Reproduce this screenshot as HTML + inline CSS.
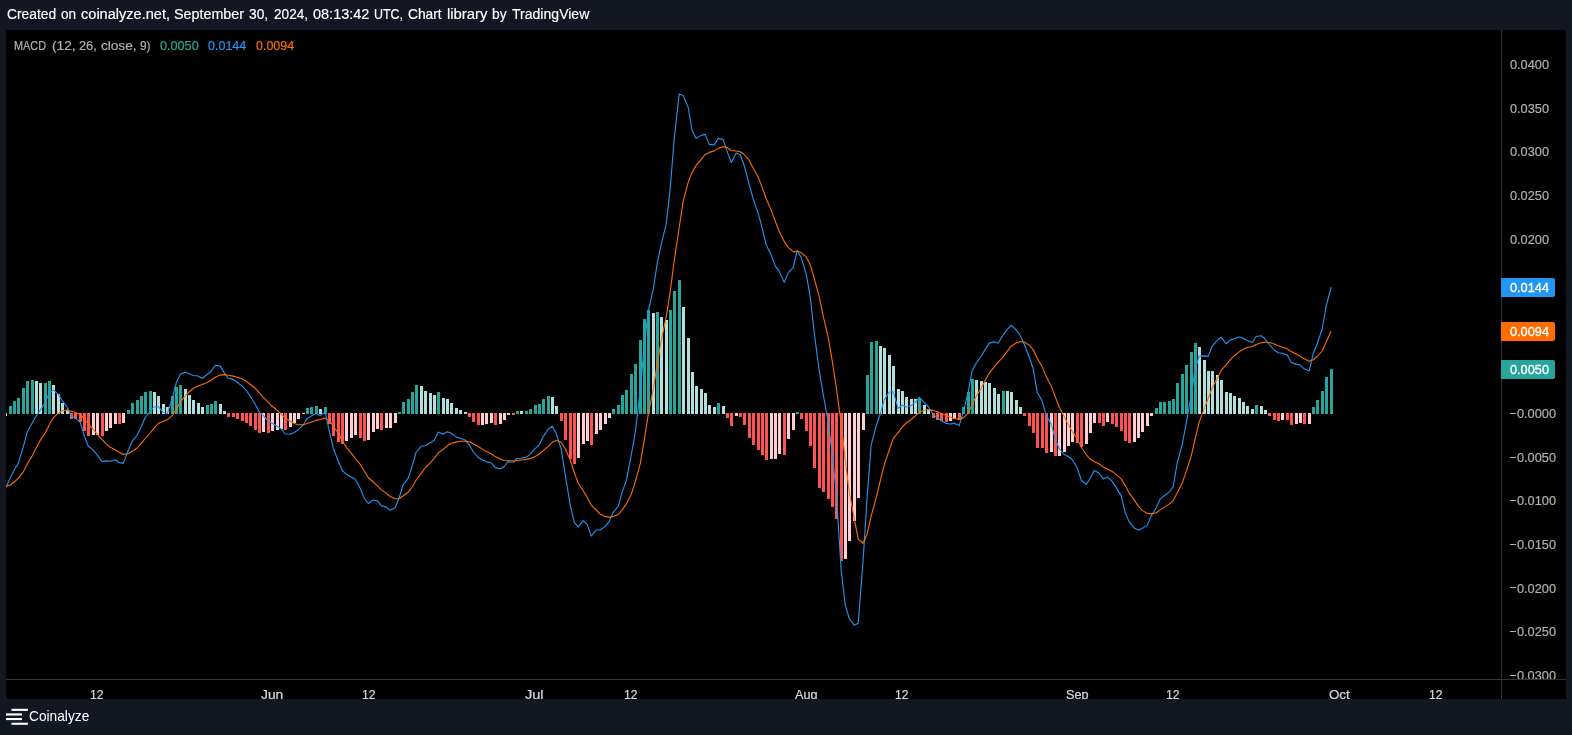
<!DOCTYPE html>
<html><head><meta charset="utf-8"><title>MACD chart</title>
<style>
html,body{margin:0;padding:0;}
body{width:1572px;height:735px;background:#131722;position:relative;overflow:hidden;font-family:"Liberation Sans",sans-serif;}
#chart{position:absolute;left:6px;top:30px;width:1560px;height:669px;background:#000;overflow:hidden;}
.t{position:absolute;white-space:pre;line-height:20px;transform-origin:0 0;font-family:"Liberation Sans",sans-serif;}
.lab{position:absolute;left:1501px;width:54px;height:19px;border-radius:0 2px 2px 0;}
.mn{position:absolute;width:6px;height:1px;background:#b0b0b0;left:1510px;}
</style></head><body>
<div id="chart"></div>
<svg width="1572" height="735" viewBox="0 0 1572 735" style="position:absolute;left:0;top:0">
<defs><clipPath id="cp"><rect x="6" y="30" width="1495" height="649"/></clipPath></defs>
<g clip-path="url(#cp)">
<g shape-rendering="crispEdges"><path fill="#ffcdd2" d="M4 413h3v3h-3zM92 413h3v22h-3zM96 413h3v22h-3zM105 413h3v18h-3zM109 413h3v15h-3zM114 413h3v11h-3zM122 413h3v10h-3zM262 413h3v19h-3zM271 413h3v18h-3zM276 413h3v17h-3zM280 413h3v16h-3zM289 413h3v14h-3zM293 413h3v10h-3zM297 413h3v6h-3zM302 413h3v1h-3zM345 413h3v28h-3zM350 413h3v25h-3zM354 413h3v22h-3zM367 413h3v27h-3zM372 413h3v19h-3zM376 413h3v16h-3zM385 413h3v15h-3zM389 413h3v15h-3zM394 413h3v10h-3zM481 413h3v12h-3zM485 413h3v11h-3zM490 413h3v10h-3zM499 413h3v11h-3zM503 413h3v7h-3zM507 413h3v2h-3zM577 413h3v45h-3zM582 413h3v31h-3zM586 413h3v28h-3zM595 413h3v21h-3zM599 413h3v17h-3zM604 413h3v11h-3zM608 413h3v5h-3zM735 413h3v3h-3zM770 413h3v46h-3zM774 413h3v46h-3zM778 413h3v41h-3zM787 413h3v26h-3zM792 413h3v17h-3zM844 413h3v146h-3zM848 413h3v128h-3zM853 413h3v108h-3zM857 413h3v85h-3zM862 413h3v17h-3zM949 413h3v8h-3zM953 413h3v6h-3zM1050 413h3v39h-3zM1058 413h3v43h-3zM1063 413h3v39h-3zM1067 413h3v33h-3zM1071 413h3v29h-3zM1085 413h3v31h-3zM1089 413h3v20h-3zM1093 413h3v10h-3zM1106 413h3v9h-3zM1133 413h3v29h-3zM1137 413h3v25h-3zM1141 413h3v19h-3zM1146 413h3v13h-3zM1150 413h3v3h-3zM1281 413h3v7h-3zM1295 413h3v11h-3zM1299 413h3v10h-3zM1308 413h3v11h-3z"/><path fill="#26a69a" d="M9 406h3v8h-3zM13 401h3v13h-3zM17 398h3v16h-3zM22 388h3v26h-3zM26 381h3v33h-3zM31 380h3v34h-3zM44 383h3v31h-3zM48 381h3v33h-3zM127 410h3v4h-3zM131 403h3v11h-3zM136 400h3v14h-3zM140 396h3v18h-3zM144 392h3v22h-3zM149 391h3v23h-3zM171 396h3v18h-3zM175 387h3v27h-3zM179 385h3v29h-3zM206 405h3v9h-3zM210 404h3v10h-3zM214 401h3v13h-3zM306 408h3v6h-3zM310 407h3v7h-3zM315 406h3v8h-3zM324 407h3v7h-3zM398 412h3v2h-3zM402 402h3v12h-3zM407 399h3v15h-3zM411 392h3v22h-3zM415 385h3v29h-3zM437 392h3v22h-3zM516 411h3v3h-3zM525 411h3v3h-3zM529 409h3v5h-3zM534 405h3v9h-3zM538 404h3v10h-3zM542 399h3v15h-3zM547 396h3v18h-3zM612 409h3v5h-3zM617 405h3v9h-3zM621 395h3v19h-3zM625 390h3v24h-3zM630 374h3v40h-3zM634 364h3v50h-3zM639 340h3v74h-3zM643 319h3v95h-3zM647 310h3v104h-3zM656 312h3v102h-3zM669 310h3v104h-3zM673 291h3v123h-3zM678 280h3v134h-3zM717 403h3v11h-3zM796 412h3v2h-3zM866 375h3v39h-3zM870 342h3v72h-3zM875 341h3v73h-3zM918 398h3v16h-3zM962 407h3v7h-3zM967 392h3v22h-3zM971 379h3v35h-3zM1002 391h3v23h-3zM1155 408h3v6h-3zM1159 402h3v12h-3zM1163 402h3v12h-3zM1168 401h3v13h-3zM1172 399h3v15h-3zM1176 383h3v31h-3zM1181 374h3v40h-3zM1185 365h3v49h-3zM1190 352h3v62h-3zM1194 343h3v71h-3zM1255 405h3v9h-3zM1312 407h3v7h-3zM1316 400h3v14h-3zM1321 391h3v23h-3zM1325 377h3v37h-3zM1330 369h3v45h-3z"/><path fill="#b2dfdb" d="M35 381h3v33h-3zM39 383h3v31h-3zM52 385h3v29h-3zM57 394h3v20h-3zM61 403h3v11h-3zM66 410h3v4h-3zM153 392h3v22h-3zM157 396h3v18h-3zM162 404h3v10h-3zM166 407h3v7h-3zM184 389h3v25h-3zM188 395h3v19h-3zM192 400h3v14h-3zM197 403h3v11h-3zM201 407h3v7h-3zM219 404h3v10h-3zM223 411h3v3h-3zM319 409h3v5h-3zM420 386h3v28h-3zM424 391h3v23h-3zM429 393h3v21h-3zM433 395h3v19h-3zM442 398h3v16h-3zM446 399h3v15h-3zM450 403h3v11h-3zM455 408h3v6h-3zM459 410h3v4h-3zM464 412h3v2h-3zM520 411h3v3h-3zM551 397h3v17h-3zM555 406h3v8h-3zM652 313h3v101h-3zM660 317h3v97h-3zM665 320h3v94h-3zM682 307h3v107h-3zM687 338h3v76h-3zM691 372h3v42h-3zM695 386h3v28h-3zM700 389h3v25h-3zM704 393h3v21h-3zM708 405h3v9h-3zM713 407h3v7h-3zM722 406h3v8h-3zM879 346h3v68h-3zM883 348h3v66h-3zM888 355h3v59h-3zM892 366h3v48h-3zM897 389h3v25h-3zM901 391h3v23h-3zM905 397h3v17h-3zM910 399h3v15h-3zM914 399h3v15h-3zM923 405h3v9h-3zM927 410h3v4h-3zM975 380h3v34h-3zM980 381h3v33h-3zM984 382h3v32h-3zM988 383h3v31h-3zM993 388h3v26h-3zM997 394h3v20h-3zM1006 391h3v23h-3zM1010 392h3v22h-3zM1015 400h3v14h-3zM1019 407h3v7h-3zM1198 347h3v67h-3zM1203 360h3v54h-3zM1207 371h3v43h-3zM1211 371h3v43h-3zM1216 375h3v39h-3zM1220 380h3v34h-3zM1225 392h3v22h-3zM1229 393h3v21h-3zM1233 396h3v18h-3zM1238 398h3v16h-3zM1242 402h3v12h-3zM1246 406h3v8h-3zM1251 409h3v5h-3zM1260 406h3v8h-3zM1264 410h3v4h-3z"/><path fill="#ff5252" d="M70 413h3v6h-3zM74 413h3v6h-3zM79 413h3v9h-3zM83 413h3v18h-3zM87 413h3v23h-3zM101 413h3v23h-3zM118 413h3v11h-3zM227 413h3v4h-3zM232 413h3v4h-3zM236 413h3v6h-3zM241 413h3v8h-3zM245 413h3v10h-3zM249 413h3v13h-3zM254 413h3v17h-3zM258 413h3v20h-3zM267 413h3v20h-3zM284 413h3v17h-3zM328 413h3v11h-3zM332 413h3v23h-3zM337 413h3v29h-3zM341 413h3v31h-3zM359 413h3v25h-3zM363 413h3v28h-3zM380 413h3v17h-3zM468 413h3v4h-3zM472 413h3v9h-3zM477 413h3v12h-3zM494 413h3v12h-3zM512 413h3v2h-3zM560 413h3v8h-3zM564 413h3v27h-3zM569 413h3v46h-3zM573 413h3v51h-3zM590 413h3v32h-3zM726 413h3v5h-3zM730 413h3v13h-3zM739 413h3v4h-3zM743 413h3v12h-3zM748 413h3v25h-3zM752 413h3v32h-3zM757 413h3v37h-3zM761 413h3v42h-3zM765 413h3v47h-3zM783 413h3v42h-3zM800 413h3v6h-3zM805 413h3v18h-3zM809 413h3v33h-3zM813 413h3v55h-3zM818 413h3v75h-3zM822 413h3v79h-3zM827 413h3v86h-3zM831 413h3v94h-3zM835 413h3v106h-3zM840 413h3v148h-3zM932 413h3v5h-3zM936 413h3v7h-3zM940 413h3v8h-3zM945 413h3v9h-3zM958 413h3v7h-3zM1023 413h3v3h-3zM1028 413h3v13h-3zM1032 413h3v20h-3zM1036 413h3v35h-3zM1041 413h3v35h-3zM1045 413h3v40h-3zM1054 413h3v43h-3zM1076 413h3v30h-3zM1080 413h3v34h-3zM1098 413h3v10h-3zM1102 413h3v13h-3zM1111 413h3v11h-3zM1115 413h3v14h-3zM1120 413h3v18h-3zM1124 413h3v28h-3zM1128 413h3v30h-3zM1268 413h3v3h-3zM1273 413h3v7h-3zM1277 413h3v8h-3zM1286 413h3v7h-3zM1290 413h3v12h-3zM1303 413h3v11h-3z"/></g>
<polyline fill="none" stroke="#2196f3" stroke-width="1.1" stroke-linejoin="round" points="5.2,489.0 10.2,478.0 14.2,470.0 18.2,463.3 23.2,447.1 27.2,432.1 32.2,422.9 36.2,415.9 40.2,410.4 45.2,402.5 49.2,392.9 53.2,389.9 58.2,394.2 62.2,400.7 67.2,407.0 71.2,416.2 75.2,417.8 80.2,422.4 84.2,435.5 88.2,446.0 93.2,450.1 97.2,455.1 102.2,461.7 106.2,460.9 110.2,461.3 115.2,459.7 119.2,462.5 123.2,463.4 128.2,450.7 132.2,441.2 137.2,435.0 141.2,426.7 145.2,417.5 150.2,411.0 154.2,406.8 158.2,406.6 163.2,412.3 167.2,413.8 172.2,398.6 176.2,383.1 180.2,374.2 185.2,372.2 189.2,373.7 193.2,375.5 198.2,376.0 202.2,378.5 207.2,374.5 211.2,371.3 215.2,365.3 220.2,366.1 224.2,372.6 228.2,378.3 233.2,379.4 237.2,382.3 242.2,386.1 246.2,390.3 250.2,396.2 255.2,404.2 259.2,411.9 263.2,415.4 268.2,421.1 272.2,423.3 277.2,426.3 281.2,429.0 285.2,434.0 290.2,434.2 294.2,432.4 298.2,429.7 303.2,425.0 307.2,418.5 311.2,416.1 316.2,413.4 320.2,415.5 325.2,412.1 329.2,430.6 333.2,448.0 338.2,461.0 342.2,470.5 346.2,474.2 351.2,477.1 355.2,479.3 360.2,488.3 364.2,498.0 368.2,503.5 373.2,500.0 377.2,500.7 381.2,505.6 386.2,507.1 390.2,510.2 395.2,507.7 399.2,497.5 403.2,484.7 408.2,478.2 412.2,466.0 416.2,452.0 421.2,446.3 425.2,445.8 430.2,442.8 434.2,440.3 438.2,432.0 443.2,434.3 447.2,431.8 451.2,433.3 456.2,437.1 460.2,438.3 465.2,440.1 469.2,444.8 473.2,451.8 478.2,457.5 482.2,459.8 486.2,461.6 491.2,462.8 495.2,467.6 500.2,469.0 504.2,466.5 508.2,461.7 513.2,462.3 517.2,458.5 521.2,458.3 526.2,457.2 530.2,454.4 535.2,448.4 539.2,445.1 543.2,436.6 548.2,429.3 552.2,426.3 556.2,433.5 561.2,449.2 565.2,474.6 570.2,504.8 574.2,522.3 578.2,527.2 583.2,520.7 587.2,524.4 591.2,536.1 596.2,530.0 600.2,530.0 605.2,526.4 609.2,521.4 613.2,512.4 618.2,506.4 622.2,491.9 626.2,481.1 631.2,455.4 635.2,433.1 640.2,390.9 644.2,346.4 648.2,311.6 653.2,289.6 657.2,263.4 661.2,244.4 666.2,224.1 670.2,188.4 674.2,138.9 679.2,94.1 683.2,95.5 688.2,107.4 692.2,131.1 696.2,138.4 701.2,135.4 705.2,134.4 709.2,144.4 714.2,144.9 718.2,138.4 723.2,139.6 727.2,151.6 731.2,162.5 736.2,153.0 740.2,154.7 744.2,165.5 749.2,184.4 753.2,199.2 758.2,213.1 762.2,228.4 766.2,244.8 771.2,255.1 775.2,265.9 779.2,271.2 784.2,282.4 788.2,272.6 793.2,267.6 797.2,250.3 801.2,257.6 806.2,273.8 810.2,296.8 814.2,332.2 819.2,370.7 823.2,394.2 828.2,422.4 832.2,453.6 836.2,491.9 841.2,570.6 845.2,604.8 849.2,618.5 854.2,625.2 858.2,623.2 863.2,559.2 867.2,495.7 871.2,444.9 876.2,425.9 880.2,414.1 884.2,399.9 889.2,392.3 893.2,391.6 898.2,408.6 902.2,405.0 906.2,407.0 911.2,405.5 915.2,402.4 919.2,397.3 924.2,402.3 928.2,406.5 933.2,414.4 937.2,417.8 941.2,420.5 946.2,423.4 950.2,424.0 954.2,423.2 959.2,425.6 963.2,412.1 968.2,391.9 972.2,370.5 976.2,363.3 981.2,356.3 985.2,349.6 989.2,343.1 994.2,341.9 998.2,343.2 1003.2,334.8 1007.2,329.7 1011.2,325.2 1016.2,330.0 1020.2,335.5 1024.2,344.0 1029.2,357.0 1033.2,368.8 1037.2,392.3 1042.2,401.1 1046.2,415.6 1051.2,424.1 1055.2,438.6 1059.2,448.7 1064.2,454.5 1068.2,456.5 1072.2,459.5 1077.2,467.8 1081.2,480.0 1086.2,484.5 1090.2,478.3 1094.2,470.5 1099.2,473.2 1103.2,478.9 1107.2,476.9 1112.2,481.4 1116.2,487.6 1121.2,495.9 1125.2,512.6 1129.2,521.9 1134.2,527.9 1138.2,529.9 1142.2,528.4 1147.2,525.4 1151.2,515.9 1156.2,507.7 1160.2,498.9 1164.2,495.8 1169.2,492.1 1173.2,486.6 1177.2,463.1 1182.2,444.3 1186.2,423.3 1191.2,395.1 1195.2,368.6 1199.2,356.1 1204.2,355.9 1208.2,356.4 1212.2,346.2 1217.2,340.4 1221.2,337.2 1226.2,343.9 1230.2,339.9 1234.2,338.7 1239.2,336.9 1243.2,338.2 1247.2,340.5 1252.2,342.5 1256.2,336.5 1261.2,335.7 1265.2,339.0 1269.2,344.5 1274.2,350.0 1278.2,352.7 1282.2,353.2 1287.2,355.1 1291.2,362.6 1296.2,364.1 1300.2,365.3 1304.2,368.8 1309.2,370.9 1313.2,353.7 1317.2,343.5 1322.2,329.0 1326.2,306.0 1331.2,287.0"/>
<polyline fill="none" stroke="#ff6d00" stroke-width="1.1" stroke-linejoin="round" points="5.2,486.7 10.2,485.0 14.2,482.0 18.2,478.3 23.2,472.1 27.2,464.1 32.2,455.9 36.2,447.9 40.2,440.4 45.2,432.9 49.2,424.9 53.2,417.9 58.2,413.2 62.2,410.7 67.2,410.0 71.2,411.2 75.2,412.4 80.2,414.4 84.2,418.5 88.2,424.0 93.2,429.1 97.2,434.3 102.2,439.7 106.2,443.9 110.2,447.3 115.2,449.7 119.2,452.2 123.2,454.4 128.2,453.7 132.2,451.2 137.2,448.0 141.2,443.7 145.2,438.5 150.2,433.0 154.2,427.8 158.2,423.6 163.2,421.3 167.2,419.8 172.2,415.6 176.2,409.1 180.2,402.2 185.2,396.2 189.2,391.7 193.2,388.5 198.2,386.0 202.2,384.5 207.2,382.5 211.2,380.3 215.2,377.3 220.2,375.1 224.2,374.6 228.2,375.3 233.2,376.1 237.2,377.3 242.2,379.1 246.2,381.3 250.2,384.2 255.2,388.2 259.2,392.9 263.2,397.4 268.2,402.1 272.2,406.3 277.2,410.3 281.2,414.0 285.2,418.0 290.2,421.2 294.2,423.4 298.2,424.7 303.2,424.7 307.2,423.5 311.2,422.1 316.2,420.4 320.2,419.5 325.2,418.1 329.2,420.6 333.2,426.0 338.2,433.0 342.2,440.5 346.2,447.2 351.2,453.1 355.2,458.3 360.2,464.3 364.2,471.0 368.2,477.5 373.2,482.0 377.2,485.7 381.2,489.6 386.2,493.1 390.2,496.5 395.2,498.7 399.2,498.5 403.2,495.7 408.2,492.2 412.2,487.0 416.2,480.0 421.2,473.3 425.2,467.8 430.2,462.8 434.2,458.3 438.2,453.0 443.2,449.3 447.2,445.8 451.2,443.3 456.2,442.1 460.2,441.3 465.2,441.1 469.2,441.8 473.2,443.8 478.2,446.5 482.2,449.1 486.2,451.6 491.2,453.8 495.2,456.6 500.2,459.0 504.2,460.5 508.2,460.7 513.2,461.0 517.2,460.5 521.2,460.0 526.2,459.4 530.2,458.4 535.2,456.4 539.2,454.1 543.2,450.6 548.2,446.3 552.2,442.3 556.2,440.5 561.2,442.2 565.2,448.6 570.2,459.8 574.2,472.3 578.2,483.2 583.2,490.7 587.2,497.4 591.2,505.1 596.2,510.0 600.2,514.0 605.2,516.4 609.2,517.4 613.2,516.4 618.2,514.4 622.2,509.9 626.2,504.1 631.2,494.4 635.2,482.1 640.2,463.9 644.2,440.4 648.2,414.6 653.2,389.6 657.2,364.4 661.2,340.4 666.2,317.1 670.2,291.4 674.2,260.9 679.2,227.5 683.2,201.1 688.2,182.4 692.2,172.1 696.2,165.4 701.2,159.4 705.2,154.4 709.2,152.4 714.2,150.9 718.2,148.4 723.2,146.6 727.2,147.6 731.2,150.5 736.2,151.0 740.2,151.7 744.2,154.5 749.2,160.4 753.2,168.2 758.2,177.1 762.2,187.4 766.2,198.8 771.2,210.1 775.2,221.2 779.2,231.2 784.2,241.4 788.2,247.6 793.2,251.6 797.2,251.3 801.2,252.6 806.2,256.8 810.2,264.8 814.2,278.2 819.2,296.7 823.2,316.2 828.2,337.4 832.2,360.6 836.2,386.9 841.2,423.6 845.2,459.8 849.2,491.5 854.2,518.2 858.2,539.2 863.2,543.2 867.2,533.7 871.2,515.9 876.2,497.9 880.2,481.1 884.2,464.9 889.2,450.3 893.2,438.6 898.2,432.6 902.2,427.0 906.2,423.0 911.2,419.5 915.2,416.1 919.2,412.3 924.2,410.3 928.2,409.5 933.2,410.4 937.2,411.8 941.2,413.5 946.2,415.4 950.2,417.0 954.2,418.2 959.2,419.6 963.2,418.1 968.2,412.9 972.2,404.5 976.2,396.3 981.2,388.3 985.2,380.6 989.2,373.1 994.2,366.9 998.2,362.2 1003.2,356.8 1007.2,351.4 1011.2,346.2 1016.2,343.0 1020.2,341.5 1024.2,342.0 1029.2,345.0 1033.2,349.8 1037.2,358.3 1042.2,366.8 1046.2,376.6 1051.2,386.1 1055.2,396.6 1059.2,407.0 1064.2,416.5 1068.2,424.5 1072.2,431.5 1077.2,438.8 1081.2,447.0 1086.2,454.5 1090.2,459.3 1094.2,461.5 1099.2,463.9 1103.2,466.9 1107.2,468.9 1112.2,471.4 1116.2,474.6 1121.2,478.9 1125.2,485.6 1129.2,492.9 1134.2,499.9 1138.2,505.9 1142.2,510.4 1147.2,513.4 1151.2,513.9 1156.2,512.7 1160.2,509.9 1164.2,507.1 1169.2,504.1 1173.2,500.6 1177.2,493.1 1182.2,483.3 1186.2,471.3 1191.2,456.1 1195.2,438.6 1199.2,422.1 1204.2,408.9 1208.2,398.4 1212.2,387.9 1217.2,378.4 1221.2,370.2 1226.2,364.9 1230.2,359.9 1234.2,355.7 1239.2,351.9 1243.2,349.2 1247.2,347.5 1252.2,346.5 1256.2,344.5 1261.2,342.7 1265.2,342.0 1269.2,342.5 1274.2,344.0 1278.2,345.7 1282.2,347.2 1287.2,348.8 1291.2,351.6 1296.2,354.1 1300.2,356.3 1304.2,358.8 1309.2,361.2 1313.2,359.7 1317.2,356.5 1322.2,351.0 1326.2,342.0 1331.2,331.0"/>
</g>
<g shape-rendering="crispEdges" fill="#333">
<rect x="1501" y="30" width="1" height="669"/>
<rect x="6" y="679" width="1560" height="1"/>
</g>
</svg>
<div class="lab" style="top:278px;background:#2196f3"></div>
<div class="lab" style="top:322px;background:#ff6d00"></div>
<div class="lab" style="top:360px;background:#26a69a"></div>
<div id="txt" style="position:absolute;left:0;top:30px;width:1566px;height:649px;overflow:hidden;will-change:transform">
<span class="t" style="left:13.80px;top:6.20px;font-size:13px;color:#b0b0b0;transform:scaleX(0.8395);-webkit-text-stroke:0.2px #b0b0b0;">MACD</span>
<span class="t" style="left:51.70px;top:6.20px;font-size:13px;color:#b0b0b0;transform:scaleX(1.0545);-webkit-text-stroke:0.2px #b0b0b0;">(12,</span>
<span class="t" style="left:78.90px;top:6.20px;font-size:13px;color:#b0b0b0;transform:scaleX(0.9833);-webkit-text-stroke:0.2px #b0b0b0;">26,</span>
<span class="t" style="left:101.20px;top:6.20px;font-size:13px;color:#b0b0b0;transform:scaleX(1.0455);-webkit-text-stroke:0.2px #b0b0b0;">close,</span>
<span class="t" style="left:140.40px;top:6.20px;font-size:13px;color:#b0b0b0;transform:scaleX(0.9083);-webkit-text-stroke:0.2px #b0b0b0;">9)</span>
<span class="t" style="left:160.30px;top:6.20px;font-size:13px;color:#26a69a;transform:scaleX(0.9725);-webkit-text-stroke:0.2px #26a69a;">0.0050</span>
<span class="t" style="left:208.00px;top:6.20px;font-size:13px;color:#2196f3;transform:scaleX(0.9625);-webkit-text-stroke:0.2px #2196f3;">0.0144</span>
<span class="t" style="left:255.80px;top:6.20px;font-size:13px;color:#ff6d00;transform:scaleX(0.9600);-webkit-text-stroke:0.2px #ff6d00;">0.0094</span>
<span class="t" style="left:1510.00px;top:25.22px;font-size:13px;color:#b0b0b0;transform:scaleX(0.9800);-webkit-text-stroke:0.2px #b0b0b0;">0.0400</span>
<span class="t" style="left:1510.00px;top:68.83px;font-size:13px;color:#b0b0b0;transform:scaleX(0.9800);-webkit-text-stroke:0.2px #b0b0b0;">0.0350</span>
<span class="t" style="left:1510.00px;top:112.44px;font-size:13px;color:#b0b0b0;transform:scaleX(0.9800);-webkit-text-stroke:0.2px #b0b0b0;">0.0300</span>
<span class="t" style="left:1510.00px;top:156.05px;font-size:13px;color:#b0b0b0;transform:scaleX(0.9800);-webkit-text-stroke:0.2px #b0b0b0;">0.0250</span>
<span class="t" style="left:1510.00px;top:199.66px;font-size:13px;color:#b0b0b0;transform:scaleX(0.9800);-webkit-text-stroke:0.2px #b0b0b0;">0.0200</span>
<span class="t" style="left:1517.00px;top:374.10px;font-size:13px;color:#b0b0b0;transform:scaleX(0.9800);-webkit-text-stroke:0.2px #b0b0b0;">0.0000</span>
<span class="t" style="left:1517.00px;top:417.71px;font-size:13px;color:#b0b0b0;transform:scaleX(0.9800);-webkit-text-stroke:0.2px #b0b0b0;">0.0050</span>
<span class="t" style="left:1517.00px;top:461.32px;font-size:13px;color:#b0b0b0;transform:scaleX(0.9800);-webkit-text-stroke:0.2px #b0b0b0;">0.0100</span>
<span class="t" style="left:1517.00px;top:504.93px;font-size:13px;color:#b0b0b0;transform:scaleX(0.9800);-webkit-text-stroke:0.2px #b0b0b0;">0.0150</span>
<span class="t" style="left:1517.00px;top:548.54px;font-size:13px;color:#b0b0b0;transform:scaleX(0.9800);-webkit-text-stroke:0.2px #b0b0b0;">0.0200</span>
<span class="t" style="left:1517.00px;top:592.15px;font-size:13px;color:#b0b0b0;transform:scaleX(0.9800);-webkit-text-stroke:0.2px #b0b0b0;">0.0250</span>
<span class="t" style="left:1517.00px;top:635.76px;font-size:13px;color:#b0b0b0;transform:scaleX(0.9800);-webkit-text-stroke:0.2px #b0b0b0;">0.0300</span>
<span class="t" style="left:1510.00px;top:248.20px;font-size:13px;color:#ffffff;transform:scaleX(0.9800);-webkit-text-stroke:0.35px #ffffff;">0.0144</span>
<span class="t" style="left:1510.00px;top:292.10px;font-size:13px;color:#ffffff;transform:scaleX(0.9800);-webkit-text-stroke:0.35px #ffffff;">0.0094</span>
<span class="t" style="left:1510.00px;top:330.20px;font-size:13px;color:#ffffff;transform:scaleX(0.9800);-webkit-text-stroke:0.35px #ffffff;">0.0050</span><div class="mn" style="top:383px"></div><div class="mn" style="top:427px"></div><div class="mn" style="top:470px"></div><div class="mn" style="top:514px"></div><div class="mn" style="top:557px"></div><div class="mn" style="top:601px"></div><div class="mn" style="top:645px"></div>
</div>
<div id="txt2" style="position:absolute;left:0;top:0;width:1572px;height:699px;overflow:hidden;will-change:transform">
<span class="t" style="left:6.60px;top:3.60px;font-size:14px;color:#ffffff;transform:scaleX(0.9880);-webkit-text-stroke:0.15px #ffffff;">Created</span>
<span class="t" style="left:60.80px;top:3.60px;font-size:14px;color:#ffffff;transform:scaleX(0.9688);-webkit-text-stroke:0.15px #ffffff;">on</span>
<span class="t" style="left:81.40px;top:3.60px;font-size:14px;color:#ffffff;transform:scaleX(1.0400);-webkit-text-stroke:0.15px #ffffff;">coinalyze.net,</span>
<span class="t" style="left:174.00px;top:3.60px;font-size:14px;color:#ffffff;transform:scaleX(1.0232);-webkit-text-stroke:0.15px #ffffff;">September</span>
<span class="t" style="left:249.40px;top:3.60px;font-size:14px;color:#ffffff;transform:scaleX(0.9842);-webkit-text-stroke:0.15px #ffffff;">30,</span>
<span class="t" style="left:273.60px;top:3.60px;font-size:14px;color:#ffffff;transform:scaleX(0.9714);-webkit-text-stroke:0.15px #ffffff;">2024,</span>
<span class="t" style="left:313.30px;top:3.60px;font-size:14px;color:#ffffff;transform:scaleX(1.0352);-webkit-text-stroke:0.15px #ffffff;">08:13:42</span>
<span class="t" style="left:374.30px;top:3.60px;font-size:14px;color:#ffffff;transform:scaleX(0.8906);-webkit-text-stroke:0.15px #ffffff;">UTC,</span>
<span class="t" style="left:407.50px;top:3.60px;font-size:14px;color:#ffffff;transform:scaleX(0.9829);-webkit-text-stroke:0.15px #ffffff;">Chart</span>
<span class="t" style="left:447.00px;top:3.60px;font-size:14px;color:#ffffff;transform:scaleX(1.0605);-webkit-text-stroke:0.15px #ffffff;">library</span>
<span class="t" style="left:492.40px;top:3.60px;font-size:14px;color:#ffffff;transform:scaleX(0.9867);-webkit-text-stroke:0.15px #ffffff;">by</span>
<span class="t" style="left:511.70px;top:3.60px;font-size:14px;color:#ffffff;transform:scaleX(1.0038);-webkit-text-stroke:0.15px #ffffff;">TradingView</span>
<span class="t" style="left:90.41px;top:684.95px;font-size:13px;color:#d1d4dc;transform:scaleX(0.9308);-webkit-text-stroke:0.25px #d1d4dc;">12</span>
<span class="t" style="left:261.18px;top:684.95px;font-size:13px;color:#d1d4dc;transform:scaleX(1.0619);-webkit-text-stroke:0.25px #d1d4dc;">Jun</span>
<span class="t" style="left:361.57px;top:684.95px;font-size:13px;color:#d1d4dc;transform:scaleX(0.9308);-webkit-text-stroke:0.25px #d1d4dc;">12</span>
<span class="t" style="left:525.24px;top:684.95px;font-size:13px;color:#d1d4dc;transform:scaleX(1.1176);-webkit-text-stroke:0.25px #d1d4dc;">Jul</span>
<span class="t" style="left:623.98px;top:684.95px;font-size:13px;color:#d1d4dc;transform:scaleX(0.9308);-webkit-text-stroke:0.25px #d1d4dc;">12</span>
<span class="t" style="left:794.70px;top:684.95px;font-size:13px;color:#d1d4dc;transform:scaleX(0.9739);-webkit-text-stroke:0.25px #d1d4dc;">Aug</span>
<span class="t" style="left:895.13px;top:684.95px;font-size:13px;color:#d1d4dc;transform:scaleX(0.9308);-webkit-text-stroke:0.25px #d1d4dc;">12</span>
<span class="t" style="left:1065.85px;top:684.95px;font-size:13px;color:#d1d4dc;transform:scaleX(0.9739);-webkit-text-stroke:0.25px #d1d4dc;">Sep</span>
<span class="t" style="left:1166.29px;top:684.95px;font-size:13px;color:#d1d4dc;transform:scaleX(0.9308);-webkit-text-stroke:0.25px #d1d4dc;">12</span>
<span class="t" style="left:1328.71px;top:684.95px;font-size:13px;color:#d1d4dc;transform:scaleX(1.0238);-webkit-text-stroke:0.25px #d1d4dc;">Oct</span>
<span class="t" style="left:1428.70px;top:684.95px;font-size:13px;color:#d1d4dc;transform:scaleX(0.9308);-webkit-text-stroke:0.25px #d1d4dc;">12</span>
</div>
<svg width="40" height="36" style="position:absolute;left:0;top:699px" viewBox="0 699 40 36"><g fill="#fff"><rect x="11.5" y="708.8" width="16.4" height="2.1"/><rect x="6" y="713.4" width="16" height="2.1"/><rect x="6" y="718" width="16" height="2.1"/><rect x="11.5" y="722.7" width="16.4" height="2.1"/></g></svg>
<div style="position:absolute;left:0;top:699px;width:300px;height:36px;will-change:transform"><span class="t" style="left:28.60px;top:7.30px;font-size:14.4px;color:#ffffff;transform:scaleX(0.9540);">Coinalyze</span></div>
</body></html>
